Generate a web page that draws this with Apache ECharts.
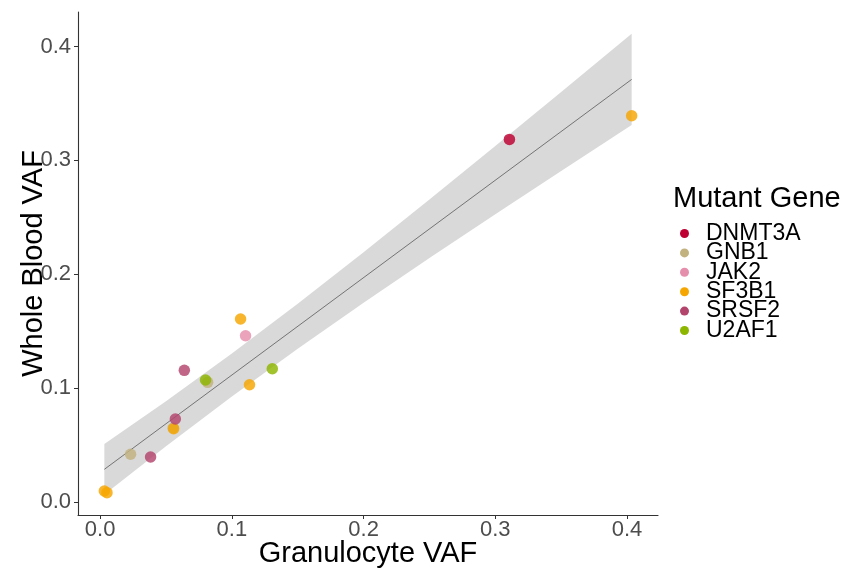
<!DOCTYPE html>
<html>
<head>
<meta charset="utf-8">
<script src="https://cdn.jsdelivr.net/npm/echarts@6/dist/echarts.min.js"></script>
<style>
html,body{margin:0;padding:0;background:#fff;}
#chart{width:847px;height:570px;}
</style>
</head>
<body>
<div id="chart"></div>
<script>
// ---- data ----
const genes = ['DNMT3A', 'GNB1', 'JAK2', 'SF3B1', 'SRSF2', 'U2AF1'];
const geneColors = ['#BE0032', '#C2B280', '#E68FAC', '#F6A600', '#B3446C', '#8DB600'];

const dnmt3a = [[0.3107, 0.3184]];
const gnb1   = [[0.0231, 0.0419], [0.0554, 0.0650], [0.0816, 0.1051]];
const jak2   = [[0.1104, 0.1460]];
const sf3b1  = [[0.0032, 0.0097], [0.0052, 0.0082], [0.0558, 0.0644], [0.1066, 0.1607],
                [0.1134, 0.1030], [0.4035, 0.3392]];
const srsf2  = [[0.0383, 0.0395], [0.0571, 0.0729], [0.0639, 0.1156]];
const u2af1  = [[0.0800, 0.1071], [0.1307, 0.1170]];
const geneData = [dnmt3a, gnb1, jak2, sf3b1, srsf2, u2af1];

// fitted line end points and confidence band
const fitLine   = [[0.0032, 0.0287], [0.4035, 0.3711]];
const bandX     = [0.0032, 0.05, 0.10, 0.15, 0.20, 0.25, 0.30, 0.35, 0.4035];
const bandUpper = [0.0509, 0.0885, 0.1304, 0.1741, 0.2193, 0.2656, 0.3126, 0.3601, 0.4111];
const bandLower = [0.0065, 0.0489, 0.0926, 0.1345, 0.1749, 0.2142, 0.2526, 0.2907, 0.3311];

const xTicks = [0, 0.1, 0.2, 0.3, 0.4];
const yTicks = [0, 0.1, 0.2, 0.3, 0.4];

// ---- chart ----
const chart = echarts.init(document.getElementById('chart'), null, {renderer: 'canvas'});
const FONT = '"Liberation Sans", Arial, sans-serif';

const bandData = bandX.map((x, i) => [x, bandLower[i], bandUpper[i]]);

const series = [
  {
    type: 'custom',
    name: 'band',
    silent: true,
    z: 1,
    data: bandData,
    encode: {x: 0, y: [1, 2]},
    renderItem: function (params, api) {
      if (params.dataIndex !== 0) return null;
      const pts = [];
      for (let i = 0; i < bandData.length; i++) pts.push(api.coord([bandData[i][0], bandData[i][2]]));
      for (let i = bandData.length - 1; i >= 0; i--) pts.push(api.coord([bandData[i][0], bandData[i][1]]));
      return {type: 'polygon', shape: {points: pts}, style: {fill: '#D9D9D9'}};
    }
  },
  {
    type: 'line',
    name: 'fit',
    silent: true,
    z: 2,
    data: fitLine,
    symbol: 'none',
    lineStyle: {color: '#595959', width: 0.8}
  }
];
genes.forEach((g, i) => {
  series.push({
    type: 'scatter',
    name: g,
    z: 3,
    data: geneData[i],
    symbol: 'circle',
    symbolSize: 11.5,
    itemStyle: {color: geneColors[i], opacity: 0.82}
  });
});

const option = {
  backgroundColor: '#fff',
  animation: false,
  textStyle: {fontFamily: FONT},
  title: {
    text: 'Mutant Gene',
    left: 673, top: 184, padding: 0,
    textStyle: {fontFamily: FONT, fontSize: 29, fontWeight: 'normal', color: '#000'}
  },
  legend: {
    data: genes,
    orient: 'vertical',
    left: 680, top: 222,
    padding: 0,
    itemGap: -3.6,
    itemWidth: 9, itemHeight: 9,
    icon: 'circle',
    textStyle: {fontFamily: FONT, fontSize: 23, color: '#000', padding: [0, 0, 0, 12]},
    itemStyle: {opacity: 1}
  },
  grid: {left: 78, right: 189, top: 12, bottom: 55, containLabel: false, outerBoundsMode: 'none'},
  xAxis: {
    type: 'value',
    min: -0.0168, max: 0.4235,
    name: 'Granulocyte VAF',
    nameLocation: 'middle',
    nameGap: 24,
    nameMoveOverlap: false,
    nameTextStyle: {fontFamily: FONT, fontSize: 29, color: '#000'},
    splitLine: {show: false},
    axisLine: {show: true, onZero: false, lineStyle: {color: '#333', width: 1.1}},
    axisTick: {show: true, length: 4, customValues: xTicks, lineStyle: {color: '#333'}},
    axisLabel: {customValues: xTicks, fontSize: 22, color: '#4D4D4D', margin: 4,
      formatter: v => v.toFixed(1)}
  },
  yAxis: {
    type: 'value',
    min: -0.0114, max: 0.4303,
    name: 'Whole Blood VAF',
    nameLocation: 'middle',
    nameGap: 30,
    nameMoveOverlap: false,
    nameTextStyle: {fontFamily: FONT, fontSize: 29, color: '#000'},
    splitLine: {show: false},
    axisLine: {show: true, onZero: false, lineStyle: {color: '#333', width: 1.1}},
    axisTick: {show: true, length: 4, customValues: yTicks, lineStyle: {color: '#333'}},
    axisLabel: {customValues: yTicks, fontSize: 22, color: '#4D4D4D', margin: 7,
      formatter: v => v.toFixed(1)}
  },
  series: series
};
chart.setOption(option);
</script>
</body>
</html>
